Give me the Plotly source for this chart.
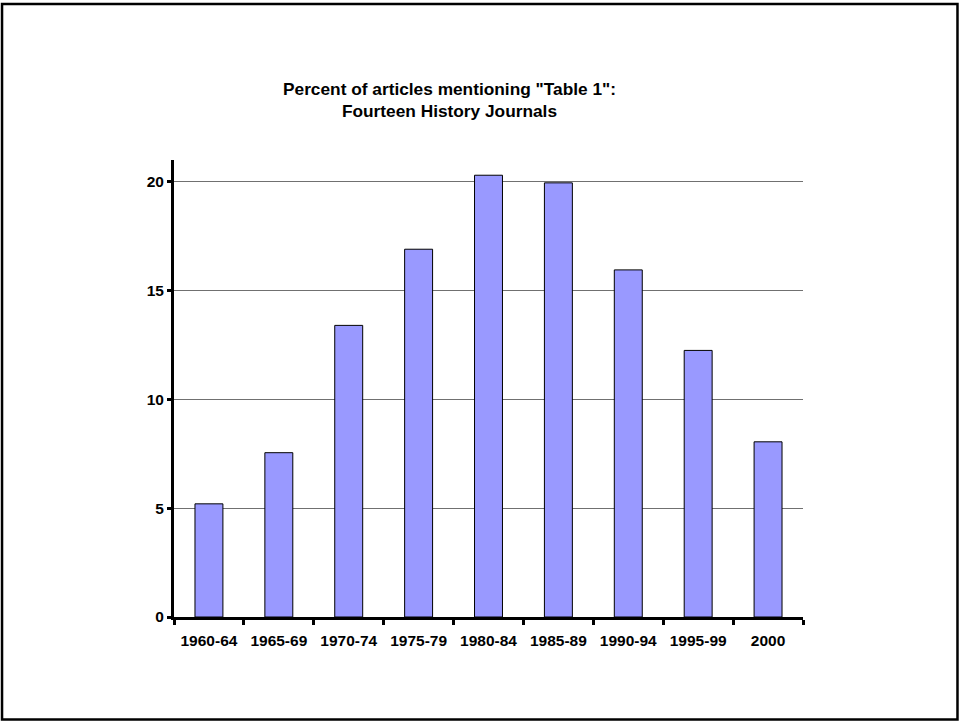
import plotly.graph_objects as go

categories = ["1960-64", "1965-69", "1970-74", "1975-79", "1980-84",
              "1985-89", "1990-94", "1995-99", "2000"]
percent = [5.2, 7.55, 13.4, 16.9, 20.3, 19.95, 15.95, 12.25, 8.05]
y_ticks = [0, 5, 10, 15, 20]

fig = go.Figure(go.Bar(
    x=categories, y=percent,
    marker=dict(color="#9999FF", line=dict(color="black", width=1)),
    width=0.4,
))

font_family = "Liberation Sans, Arial, sans-serif"

fig.update_layout(
    width=959, height=721,
    margin=dict(l=174, r=156, t=160, b=104),
    paper_bgcolor="white", plot_bgcolor="white",
    showlegend=False,
    font=dict(family=font_family, color="black"),
    annotations=[dict(
        text="<b>Percent of articles mentioning \"Table 1\":<br>Fourteen History Journals</b>",
        xref="paper", yref="paper", x=0.438, y=1.131,
        xanchor="center", yanchor="middle", showarrow=False,
        font=dict(size=17.3, family=font_family, color="black"),
    )],
    shapes=[dict(
        type="rect", xref="paper", yref="paper",
        x0=-0.2734, x1=1.2456, y0=-0.2243, y1=1.3414,
        line=dict(color="black", width=2.5), fillcolor="rgba(0,0,0,0)",
        layer="below",
    )],
)

fig.update_xaxes(
    type="category", showline=True, linecolor="black", linewidth=3,
    ticks="outside", tickson="boundaries", ticklen=5, tickwidth=3, tickcolor="black",
    tickfont=dict(size=15.5, family=font_family, weight="bold", color="black"),
    ticklabelstandoff=7,
    showgrid=False, zeroline=False,
)
fig.update_yaxes(
    range=[0, 21], showline=True, linecolor="black", linewidth=3,
    tickmode="array", tickvals=y_ticks, ticktext=[str(v) for v in y_ticks],
    ticks="outside", ticklen=4, tickwidth=3, tickcolor="black",
    tickfont=dict(size=15.5, family=font_family, weight="bold", color="black"),
    showgrid=True, gridcolor="#707070", gridwidth=1, zeroline=False,
)

fig.write_html("out.html", config={"displayModeBar": False},
               post_script="document.body.style.margin='0';")
